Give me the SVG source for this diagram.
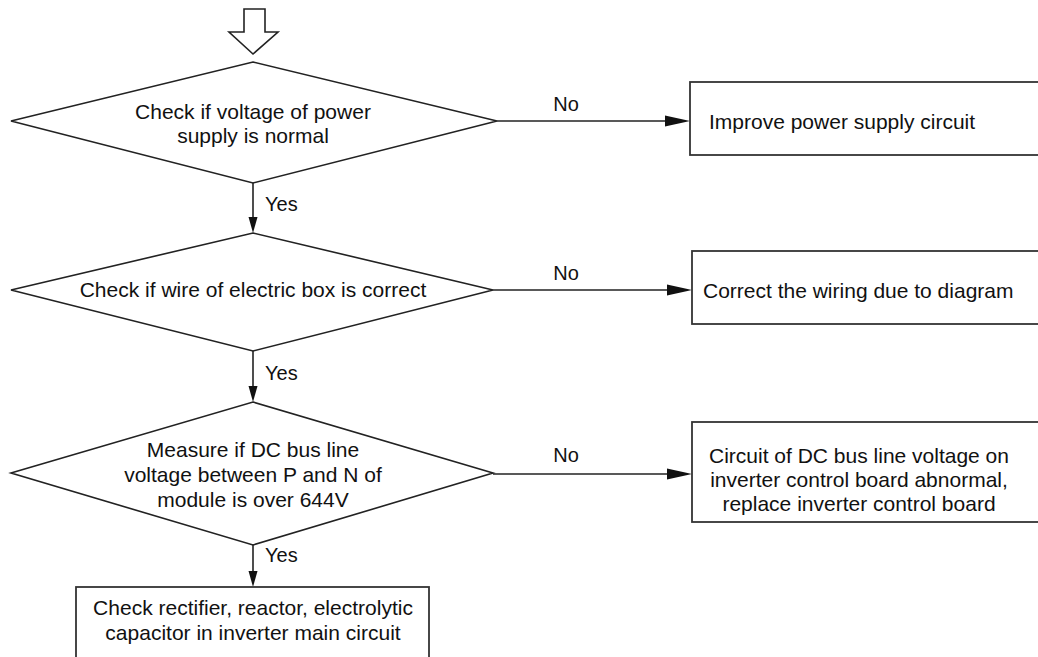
<svg xmlns="http://www.w3.org/2000/svg" width="1038" height="657" viewBox="0 0 1038 657">
<style>
.shape{fill:#ffffff;stroke:#222222;stroke-width:1.6}
.box{fill:#ffffff;stroke:#333333;stroke-width:1.8}
.t{font-family:"Liberation Sans",Arial,sans-serif;font-size:21px;fill:#111111}
.c{text-anchor:middle}
.lbl{font-family:"Liberation Sans",Arial,sans-serif;font-size:20px;fill:#111111}
.ln{stroke:#222222;stroke-width:1.6;fill:none}
.ah{fill:#111111;stroke:none}
</style>
<rect width="1038" height="657" fill="#ffffff"/>
<g id="connectors">
<polygon class="shape" points="244,9 265,9 265,32 278,32 253,54 229,32 244,32"/>
<line class="ln" x1="497" y1="121" x2="670" y2="121"/>
<polygon class="ah" points="690,121 665,115.5 665,126.5"/>
<line class="ln" x1="493" y1="290" x2="672" y2="290"/>
<polygon class="ah" points="692,290 667,284.5 667,295.5"/>
<line class="ln" x1="493" y1="474" x2="672" y2="474"/>
<polygon class="ah" points="692,474 667,468.5 667,479.5"/>
<line class="ln" x1="253" y1="183" x2="253" y2="220"/>
<polygon class="ah" points="253,233 248.5,217 257.5,217"/>
<line class="ln" x1="253" y1="351" x2="253" y2="389"/>
<polygon class="ah" points="253,402 248.5,386 257.5,386"/>
<line class="ln" x1="253" y1="545" x2="253" y2="574"/>
<polygon class="ah" points="253,587 248.5,571 257.5,571"/>
<text class="lbl c" x="566" y="111">No</text>
<text class="lbl c" x="566" y="280">No</text>
<text class="lbl c" x="566" y="462">No</text>
<text class="lbl" x="265" y="211">Yes</text>
<text class="lbl" x="265" y="380">Yes</text>
<text class="lbl" x="265" y="562">Yes</text>
</g>
<g id="d1">
<polygon class="shape" points="253,62 497,121 253,183 11,121"/>
<text class="t c" x="253" y="119">Check if voltage of power</text>
<text class="t c" x="253" y="143">supply is normal</text>
</g>
<g id="b1">
<rect class="box" x="690" y="82" width="360" height="73"/>
<text class="t" x="709" y="129">Improve power supply circuit</text>
</g>
<g id="d2">
<polygon class="shape" points="253,233 493,290 253,351 11,290"/>
<text class="t c" x="253" y="297">Check if wire of electric box is correct</text>
</g>
<g id="b2">
<rect class="box" x="692" y="251" width="360" height="73"/>
<text class="t" x="703" y="298">Correct the wiring due to diagram</text>
</g>
<g id="d3">
<polygon class="shape" points="253,402 493,473 253,545 11,473"/>
<text class="t c" x="253" y="457">Measure if DC bus line</text>
<text class="t c" x="253" y="482">voltage between P and N of</text>
<text class="t c" x="253" y="507">module is over 644V</text>
</g>
<g id="b3">
<rect class="box" x="692" y="422" width="360" height="100"/>
<text class="t c" x="859" y="463">Circuit of DC bus line voltage on</text>
<text class="t c" x="859" y="487">inverter control board abnormal,</text>
<text class="t c" x="859" y="511">replace inverter control board</text>
</g>
<g id="b4">
<rect class="box" x="76" y="587" width="353" height="90"/>
<text class="t c" x="253" y="615">Check rectifier, reactor, electrolytic</text>
<text class="t c" x="253" y="640">capacitor in inverter main circuit</text>
</g>
</svg>
